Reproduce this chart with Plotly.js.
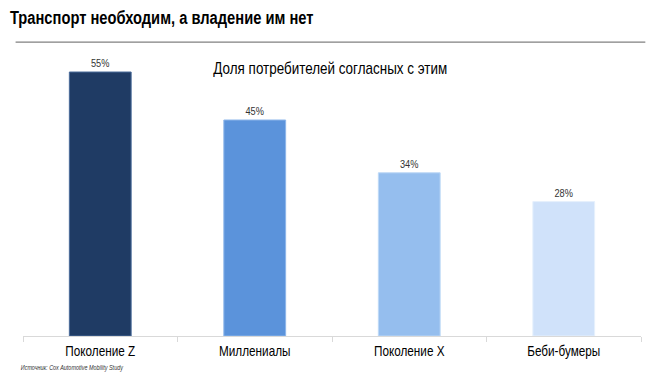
<!DOCTYPE html>
<html>
<head>
<meta charset="utf-8">
<script src="https://cdn.plot.ly/plotly-3.0.1.min.js"></script>
<style>html,body{margin:0;padding:0;background:#fff;}#chart{width:662px;height:378px;}</style>
</head>
<body>
<div id="chart"></div>
<script>
const categories = ["Поколение Z", "Миллениалы", "Поколение X", "Беби-бумеры"];
const shares = [55, 45, 34, 28];
const valueLabels = ["55%", "45%", "34%", "28%"];
const barColors = ["#1F3B64", "#5B93DB", "#95BEEE", "#D0E2FA"];
const edgeColors = ["#4A6C9A", "#8DB6EA", "#BCD8F6", "#E6F0FC"];

const FONT = '"Liberation Sans", Arial, sans-serif';
const NARROW = 0.84; // emulate a narrow Arial face

const trace = {
  type: "bar",
  x: categories,
  y: shares,
  text: valueLabels,
  textposition: "outside",
  cliponaxis: false,
  textfont: {family: FONT, size: 11, color: "#333333"},
  marker: {color: barColors, line: {color: edgeColors, width: 1}},
  width: 0.4,
  hoverinfo: "none"
};

const layout = {
  width: 662, height: 378,
  margin: {l: 23, r: 21, t: 60, b: 42},
  paper_bgcolor: "#ffffff",
  plot_bgcolor: "#ffffff",
  showlegend: false,
  title: {
    text: "<b>Транспорт необходим, а владение им нет</b>",
    font: {family: FONT, size: 17.5, color: "#000000"},
    x: 0.015, xanchor: "left", xref: "container",
    y: 0.953, yanchor: "middle", yref: "container"
  },
  xaxis: {
    showline: true, linecolor: "#d9d9d9", linewidth: 1,
    ticks: "outside", tickson: "boundaries", ticklen: 5, tickcolor: "#d9d9d9",
    ticklabelstandoff: 2,
    tickfont: {family: FONT, size: 14, color: "#000000"},
    showgrid: false, zeroline: false, fixedrange: true
  },
  yaxis: {
    range: [0, 57.5], visible: false, showgrid: false, zeroline: false, fixedrange: true
  },
  shapes: [
    {type: "line", xref: "paper", yref: "paper", x0: -0.012, x1: 1.007, y0: 1.065, y1: 1.065,
     line: {color: "#808080", width: 1.2}}
  ],
  annotations: [
    {text: "Доля потребителей согласных с этим", xref: "paper", yref: "paper",
     x: 0.498, y: 0.97, xanchor: "center", yanchor: "middle", showarrow: false,
     font: {family: FONT, size: 16, color: "#000000"}},
    {text: "<i>Источник: Cox Automotive Mobility Study</i>", xref: "paper", yref: "paper",
     x: -0.022, y: -0.115, xanchor: "left", yanchor: "middle", showarrow: false,
     font: {family: FONT, size: 6.5, color: "#333333"}}
  ]
};

Plotly.newPlot("chart", [trace], layout, {displayModeBar: false, staticPlot: true}).then(function (gd) {
  const nodes = gd.querySelectorAll("svg text");
  nodes.forEach(function (el) {
    const x = parseFloat(el.getAttribute("x")) || 0;
    const prev = el.getAttribute("transform") || "";
    el.setAttribute("transform", prev + " translate(" + x + ",0) scale(" + NARROW + ",1) translate(" + (-x) + ",0)");
  });
});
</script>
</body>
</html>
